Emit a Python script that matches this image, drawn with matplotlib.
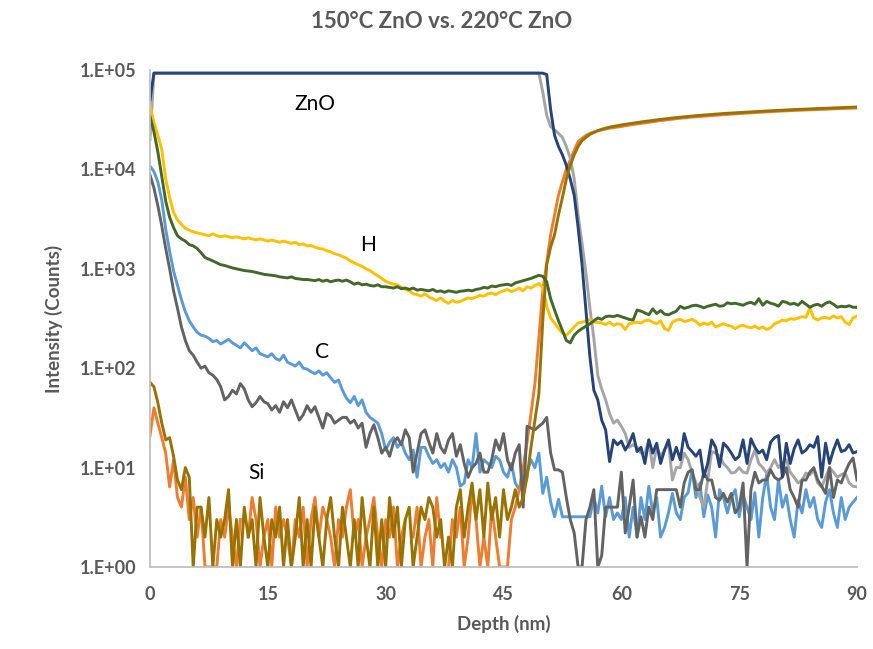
import numpy as np
import matplotlib
matplotlib.use("Agg")
import matplotlib.pyplot as plt

plt.rcParams['font.family'] = ['Lato', 'DejaVu Sans']

nan = np.nan
depth = np.arange(0, 90.01, 0.5)

zno_220 = [
    50000, 93000, 93000, 93000, 93000, 93000, 93000, 93000, 93000, 93000,
    93000, 93000, 93000, 93000, 93000, 93000, 93000, 93000, 93000, 93000,
    93000, 93000, 93000, 93000, 93000, 93000, 93000, 93000, 93000, 93000,
    93000, 93000, 93000, 93000, 93000, 93000, 93000, 93000, 93000, 93000,
    93000, 93000, 93000, 93000, 93000, 93000, 93000, 93000, 93000, 93000,
    93000, 93000, 93000, 93000, 93000, 93000, 93000, 93000, 93000, 93000,
    93000, 93000, 93000, 93000, 93000, 93000, 93000, 93000, 93000, 93000,
    93000, 93000, 93000, 93000, 93000, 93000, 93000, 93000, 93000, 93000,
    93000, 93000, 93000, 93000, 93000, 93000, 93000, 93000, 93000, 93000,
    93000, 93000, 93000, 93000, 93000, 93000, 93000, 93000, 93000, 93000,
    93000, 90000, 40000, 22000, 17000, 14000, 11000, 8000, 5500, 2600,
    1100, 380, 130, 60, 48, 30, 24, 11.5, 19, 17,
    18.5, 15, 17.5, 22, 14.5, 16, 11, 19, 14, 17.6,
    11, 15, 19, 12, 16, 12, 22, 16, 14.5, 13,
    15, 8.1, 11, 19, 16, 10.2, 17.6, 16, 14, 12,
    13, 19, 11, 19.5, 16, 14, 15, 12, 18, 20,
    21, 8.1, 17.6, 11, 15.5, 19, 14, 15, 17, 16,
    20.5, 8, 17.6, 11, 15, 19, 14.5, 15, 17, 14,
    14.5]

zno_150 = [
    20000, 93000, 93000, 93000, 93000, 93000, 93000, 93000, 93000, 93000,
    93000, 93000, 93000, 93000, 93000, 93000, 93000, 93000, 93000, 93000,
    93000, 93000, 93000, 93000, 93000, 93000, 93000, 93000, 93000, 93000,
    93000, 93000, 93000, 93000, 93000, 93000, 93000, 93000, 93000, 93000,
    93000, 93000, 93000, 93000, 93000, 93000, 93000, 93000, 93000, 93000,
    93000, 93000, 93000, 93000, 93000, 93000, 93000, 93000, 93000, 93000,
    93000, 93000, 93000, 93000, 93000, 93000, 93000, 93000, 93000, 93000,
    93000, 93000, 93000, 93000, 93000, 93000, 93000, 93000, 93000, 93000,
    93000, 93000, 93000, 93000, 93000, 93000, 93000, 93000, 93000, 93000,
    93000, 93000, 93000, 93000, 93000, 93000, 93000, 93000, 93000, 93000,
    60000, 35000, 27000, 25000, 23000, 21000, 17000, 13000, 8000, 3500,
    1800, 900, 400, 200, 85, 62, 48, 35, 28, 30,
    26, 22, 16, 17, 16, 14, 14, 19, 10, 16,
    13, 15, 18, 7.5, 10, 10, 14, 12, 9, 7,
    5, 4, 7.5, 14.5, 14, 13, 11, 10, 8.8, 9,
    10, 9, 8.8, 12, 15, 11, 10, 8.8, 10, 12,
    10, 11, 12, 9, 8, 7, 7.5, 8.8, 8.5, 9.5,
    7, 6.4, 8, 10, 9, 8, 8.5, 8.8, 7, 6.5,
    6.4]

si_150 = [
    21, 40, 28, 20, 14, 6.4, 12, 5, 4, 8,
    3, 5, 2, 4, 1, 1, 1, 1, 3, 2,
    4, 2, 1, 3, nan, 2, 5, 3, 1, 2,
    3, 1, 4, 2, 3, 2, 1, 3, 2, 4,
    1, 3, 5, 2, 4, 3, 2, 1, 3, 2,
    4, 6, 2, 3, 1, 2, 3, 5, 2, 1,
    3, 2, 4, 1, 2, 3, nan, 2, 4, 1,
    2, 3, 1, 5, 2, nan, 1, 3, 2, 4,
    1, 2, 6, 3, 1, 2, 1, 4, 2, 1,
    1, 1, 3, 4, 6, 10, 18, 35, 70, 200,
    600, 1150, 2200, 3500, 5500, 7500, 10000, 12500, 15500, 19000,
    20500, 22000, 23000, 23800, 24500, 25000, 25500, 26000, 26300, 26700,
    27000, 27500, 27900, 28300, 28700, 29000, 29400, 29800, 30200, 30600,
    31000, 31300, 31700, 32000, 32400, 32700, 33000, 33300, 33600, 33800,
    34000, 34300, 34500, 34800, 35000, 35300, 35500, 35700, 36000, 36200,
    36500, 36700, 36900, 37100, 37300, 37500, 37700, 37900, 38100, 38300,
    38500, 38700, 38800, 39000, 39200, 39300, 39500, 39600, 39800, 39900,
    40000, 40200, 40300, 40500, 40600, 40800, 40900, 41100, 41200, 41400,
    41500]

si_220 = [
    72, 65, 45, 28, 19, 20, 13, 7.5, 6, 10,
    8, 1, 4, 4, 2, 5, 1, 3, 2, 3,
    6, 1, 3, 1, 4, 2, 3, 1, 5, 2,
    1, 3, 2, 4, 1, 3, 1, 2, 5, 1,
    3, 1, 4, 2, 1, 3, 5, 2, 1, 4,
    2, 1, 3, 1, 5, 2, 1, 4, 1, 3,
    1, 5, 2, 4, 1, 3, 4, 1, 2, 4,
    3, 5, 4, 2, 3, 1, 2, 1, 4, 6,
    2, 4, 7, 3, 6, 2, 7, 3, 5, 2,
    6, 3, 4, 6, 4, 5, 8, 16, 30, 55,
    300, 1100, 1650, 2200, 3500, 5200, 8000, 11000, 14000, 17000,
    19500, 21000, 22500, 23500, 24500, 25300, 26000, 26600, 27100, 27500,
    28000, 28400, 28800, 29200, 29600, 30000, 30400, 30700, 31100, 31500,
    31800, 32200, 32500, 32900, 33200, 33500, 33800, 34100, 34400, 34700,
    35000, 35200, 35500, 35700, 36000, 36200, 36500, 36700, 36900, 37100,
    37300, 37500, 37700, 37900, 38100, 38300, 38500, 38700, 38900, 39100,
    39300, 39400, 39600, 39800, 40000, 40100, 40300, 40400, 40600, 40800,
    40900, 41100, 41200, 41400, 41500, 41700, 41800, 42000, 42100, 42300,
    42400]

h_150 = [
    44000, 30000, 22000, 15800, 8000, 5200, 3700, 3100, 2800, 2550,
    2450, 2350, 2300, 2250, 2200, 2150, 2250, 2150, 2100, 2150,
    2100, 2050, 2100, 2050, 2000, 2050, 2000, 1950, 2000, 1950,
    1900, 1950, 1900, 1850, 1900, 1850, 1800, 1850, 1750, 1780,
    1700, 1720, 1650, 1600, 1580, 1520, 1480, 1420, 1380, 1330,
    1280, 1200, 1150, 1100, 1060, 1000, 960, 900, 850, 800,
    750, 720, 700, 690, 650, 620, 600, 560, 550, 530,
    560, 520, 500, 480, 510, 470, 450, 480, 460, 470,
    490, 510, 500, 520, 540, 530, 560, 570, 550, 580,
    600, 620, 590, 610, 640, 600, 660, 640, 680, 710,
    650, 420, 320, 285, 250, 225, 215, 235, 260, 285,
    290, 300, 310, 290, 290, 285, 275, 290, 270, 280,
    275, 245, 280, 285, 290, 285, 300, 305, 290, 280,
    300, 250, 240, 290, 305, 310, 295, 300, 310, 295,
    270, 285, 275, 290, 260, 270, 280, 270, 265, 250,
    265, 270, 260, 255, 265, 250, 260, 245, 255, 280,
    290, 305, 300, 315, 310, 320, 330, 325, 400, 320,
    305, 320, 325, 315, 335, 320, 330, 290, 275, 320,
    335]

h_220 = [
    34000, 24000, 15000, 8500, 4800, 3300, 2600, 2150, 2000, 1900,
    1750, 1700, 1600, 1450, 1300, 1250, 1200, 1150, 1100, 1080,
    1050, 1020, 1000, 980, 960, 950, 940, 920, 900, 880,
    870, 860, 850, 830, 820, 810, 830, 800, 790, 780,
    780, 770, 760, 780, 750, 770, 740, 760, 770, 750,
    770, 740, 700, 720, 690, 700, 680, 670, 690, 660,
    660, 650, 640, 660, 630, 640, 620, 640, 610, 620,
    610, 600, 620, 590, 600, 580, 600, 590, 580, 595,
    600, 610, 600, 620, 630, 650, 640, 670, 660, 680,
    690, 700, 680, 720, 740, 760, 780, 800, 830, 860,
    840, 740, 500, 385, 300, 240, 190, 180, 215, 235,
    250, 265, 280, 300, 320, 310, 330, 335, 330, 340,
    330, 320, 310, 305, 385, 375, 360, 345, 395, 355,
    380, 350, 345, 360, 375, 420, 400, 410, 425, 430,
    420, 405, 420, 430, 440, 420, 425, 455, 445, 450,
    440, 430, 450, 460, 440, 500, 430, 470, 450, 440,
    420, 470, 460, 440, 450, 430, 470, 440, 410, 430,
    440, 420, 450, 465, 440, 410, 420, 415, 425, 410,
    410]

c_150 = [
    10800, 9500, 7500, 4900, 2500, 1500, 950, 680, 490, 370,
    300, 260, 230, 215, 210, 200, 185, 190, 175, 185,
    195, 180, 170, 160, 180, 165, 150, 160, 140, 135,
    130, 140, 125, 120, 135, 115, 110, 105, 115, 100,
    98, 92, 88, 94, 85, 90, 80, 72, 76, 60,
    50, 45, 52, 42, 48, 36, 32, 30, 28, 22,
    15, 18, 20, 16, 18, 14, 12, 15, 8, 16,
    16, 13, 11, 12, 10, 11, 9, 12, 10, 6.5,
    7, 12, 10, 22, 9, 12, 11, 10, 13, 12,
    9, 8, 11, 7, 6, 8, 9, 12, 10, 14,
    5.5, 8, 4.5, 3.2, 4.8, 3.2, 3.2, 3.2, 3.2, 3.2,
    3.2, 3.2, 3.2, 5, 3.5, 6.5, 3.2, 5, 3, 3.5,
    3, 5, 2, 4, 2, 5, 3, 6.5, 3.5, 5,
    2, 2.5, 3.5, 5.5, 3.5, 3, 5, 5.6, 9.5, 5,
    7, 3.2, 5.3, 4, 2, 6, 5, 3.5, 5, 6,
    3.2, 5.3, 4, 3, 5.6, 2, 5, 8.5, 4, 3,
    7.5, 4, 5.3, 3, 2, 4.7, 3.5, 6, 4, 5,
    3, 2.5, 4.5, 6, 3.5, 2.5, 5, 3, 4, 4.5,
    5]

c_220 = [
    8800, 6500, 4300, 2700, 1600, 1000, 600, 400, 260, 190,
    150, 135, 115, 100, 105, 90, 85, 77, 65, 48,
    52, 60, 55, 70, 62, 48, 41, 45, 52, 46,
    44, 38, 42, 36, 46, 40, 48, 38, 30, 34,
    42, 36, 41, 32, 25, 35, 33, 28, 30, 32,
    32, 28, 30, 25, 28, 16, 22, 27, 20, 14,
    16, 13, 18, 20, 17, 24, 20, 9, 14, 22,
    24, 18, 14, 22, 16, 14, 19, 22, 13, 17,
    11, 8, 10, 11, 14, 9, 9, 12, 19, 15,
    22, 12, 9.5, 14, 17, 4, 26, 25, 24, 26,
    28, 32, 14, 9.5, 9.5, 9, 5, 3, 2.2, 1,
    1, 3, 4, 6, 1, 1.3, 4, 4, 4, 4,
    9, 2.2, 4, 7.5, 2, 3.2, 2, 4, 3, 6,
    6, 6, 6, 6, 6, 4, 7, 9, 9.5, 6,
    6, 9, 7.5, 7.5, 5, 4.7, 5.5, 4.5, 5.5, 3.5,
    4, 7, 1, 6, 9, 7, 7.5, 7.5, 9.5, 8,
    7.5, 8, 10, 6, 5, 4, 7.5, 7.5, 9, 10,
    7.5, 6.5, 5.5, 10, 5, 7.5, 7, 9, 11, 12.5,
    7.5]

series = [
    (c_150, '#5B9BD5'),
    (si_150, '#ED7D31'),
    (zno_150, '#A5A5A5'),
    (h_150, '#FFC000'),
    (c_220, '#636363'),
    (zno_220, '#264478'),
    (si_220, '#997300'),
    (h_220, '#43682B'),
]

fig = plt.figure(figsize=(8.73, 6.49), dpi=100)
ax = fig.add_axes([150/873, 1 - 567/649, 707/873, 497/649])

for vals, col in series:
    ax.plot(depth, vals, color=col, lw=2.1, solid_joinstyle='round')

ax.set_yscale('log')
ax.set_ylim(1, 1e5)
ax.set_xlim(0, 90)
ax.minorticks_off()

xt = [0, 15, 30, 45, 60, 75, 90]
ax.set_xticks(xt)
ax.set_xticklabels([str(v) for v in xt])
yt = [1, 10, 100, 1000, 10000, 100000]
ax.set_yticks(yt)
ax.set_yticklabels(['1.E+00', '1.E+01', '1.E+02', '1.E+03', '1.E+04', '1.E+05'])

tc = '#595959'
ax.tick_params(axis='both', length=0, labelsize=13, labelcolor=tc)
ax.tick_params(axis='x', pad=14)
ax.tick_params(axis='y', pad=10)
for lab in ax.get_xticklabels() + ax.get_yticklabels():
    lab.set_fontweight('bold')

for s in ['top', 'right']:
    ax.spines[s].set_visible(False)
for s in ['left', 'bottom']:
    ax.spines[s].set_color('#BFBFBF')
    ax.spines[s].set_linewidth(1.3)

ax.set_xlabel('Depth (nm)', fontsize=13.5, fontweight='bold', color=tc, labelpad=8)
ax.set_ylabel('Intensity (Counts)', fontsize=13.5, fontweight='bold', color=tc, labelpad=12)

fig.text(442/873, 1 - 22/649, '150°C ZnO vs. 220°C ZnO', ha='center', va='center',
         fontsize=16, fontweight='bold', color=tc)

ax.text(21, 46000, 'ZnO', fontsize=15, ha='center', va='center', color='black')
ax.text(27.7, 1750, 'H', fontsize=15, ha='center', va='center', color='black')
ax.text(21.9, 145, 'C', fontsize=15, ha='center', va='center', color='black')
ax.text(13.5, 8.8, 'Si', fontsize=15, ha='center', va='center', color='black')

fig.savefig('out.png', dpi=100)
